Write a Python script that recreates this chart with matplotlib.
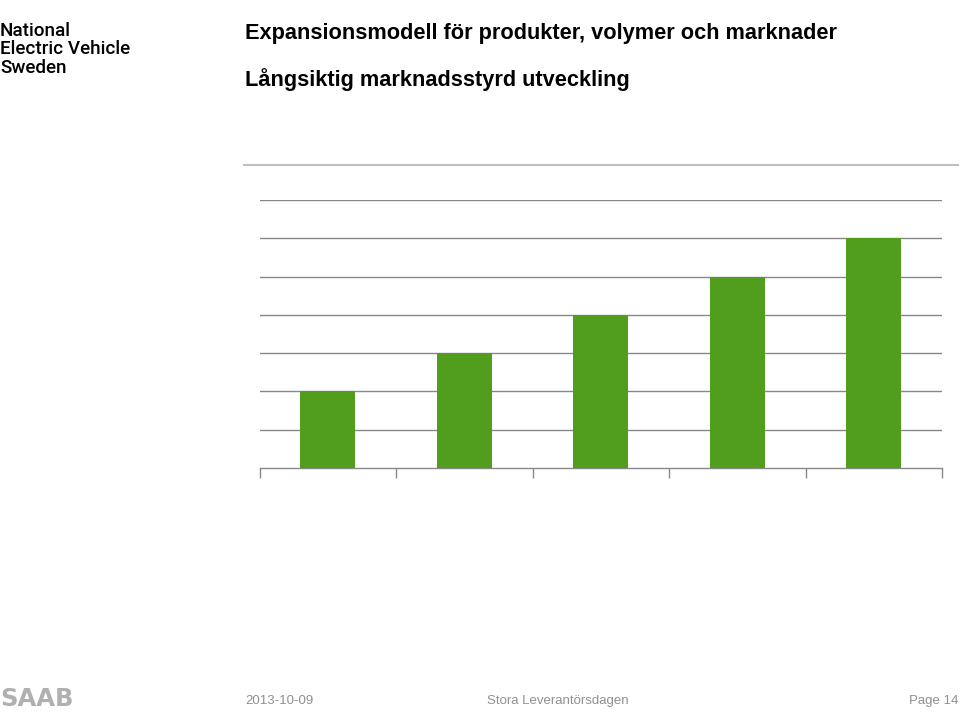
import matplotlib
matplotlib.use("Agg")
import matplotlib.pyplot as plt
from matplotlib.lines import Line2D

categories = ["1", "2", "3", "4", "5"]
values = [2, 3, 4, 5, 6]
ymax = 7

W, H = 960, 714
fig = plt.figure(figsize=(W / 100, H / 100), dpi=100)
fig.patch.set_facecolor("white")

def fx(px):
    return px / W

def fy(py):
    return 1 - py / H

ax = fig.add_axes([fx(259.5), fy(468), fx(942) - fx(259.5), fy(200) - fy(468)])
x = list(range(len(categories)))
ax.bar(x, values, width=0.4, color="#519e1f", zorder=3)
ax.set_xlim(-0.5, len(categories) - 0.5)
ax.set_ylim(0, ymax)
ax.set_yticks(range(1, ymax + 1))
ax.yaxis.grid(True, color="#888888", linewidth=1.0, zorder=0)
ax.tick_params(axis="y", length=0, labelleft=False)
ax.set_xticks([i - 0.5 for i in range(len(categories) + 1)])
ax.tick_params(axis="x", length=7, width=1.0, color="#888888", labelbottom=False, direction="out")
for s in ["top", "right", "left"]:
    ax.spines[s].set_visible(False)
ax.spines["bottom"].set_color("#888888")
ax.spines["bottom"].set_linewidth(1.0)
ax.set_facecolor("none")

# header separator line
fig.add_artist(Line2D([fx(244), fx(958)], [fy(165), fy(165)], color="#c0c0c0", linewidth=1.5))

# titles
fig.text(fx(245), fy(34), "Expansionsmodell för produkter, volymer och marknader",
         fontsize=15.7, family="Liberation Sans", fontweight="bold", color="black", va="center", ha="left")
fig.text(fx(245), fy(80), "Långsiktig marknadsstyrd utveckling",
         fontsize=15.7, family="Liberation Sans", fontweight="bold", color="black", va="center", ha="left")

# logo text
for i, line in enumerate(["National", "Electric Vehicle", "Sweden"]):
    fig.text(fx(0), fy(31 + i * 18.5), line, fontsize=13.6, family="Roboto", fontweight="medium",
             color="black", va="center", ha="left")

# footer
fig.text(fx(0), fy(699), "SAAB", fontsize=17.5, family="DejaVu Sans", fontweight="bold",
         color="#b0b0b0", va="center", ha="left")
fig.text(fx(245), fy(701), "2013-10-09", fontsize=9.5, family="Liberation Sans",
         color="#909090", va="center", ha="left")
fig.text(fx(558), fy(701), "Stora Leverantörsdagen", fontsize=9.5, family="Liberation Sans",
         color="#909090", va="center", ha="center")
fig.text(fx(958), fy(701), "Page 14", fontsize=9.5, family="Liberation Sans",
         color="#909090", va="center", ha="right")

fig.savefig("out.png", dpi=100, facecolor="white")
